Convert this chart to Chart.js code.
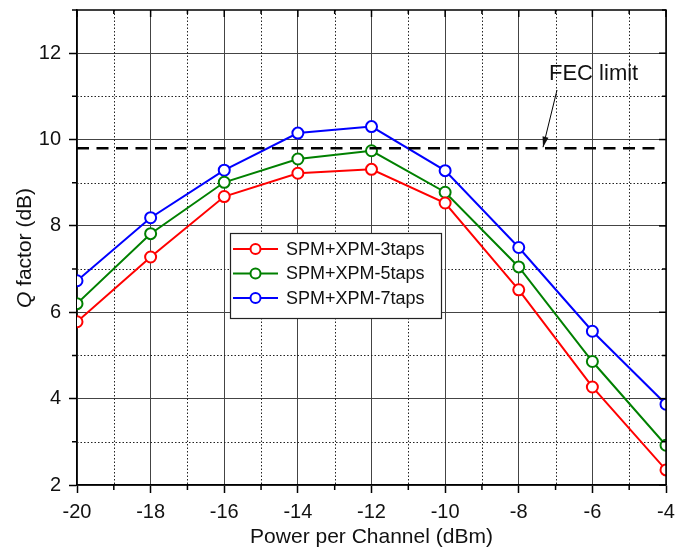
<!DOCTYPE html>
<html>
<head>
<meta charset="utf-8">
<script src="https://cdn.jsdelivr.net/npm/chart.js@4.4.1/dist/chart.umd.min.js"></script>
<style>
  html, body { margin: 0; padding: 0; background: #fff; }
  #wrap { width: 676px; height: 552px; }
</style>
</head>
<body>
<div id="wrap"><canvas id="chart" width="676" height="552"></canvas></div>
<script>
// power per channel (dBm)
const power = [-20, -18, -16, -14, -12, -10, -8, -6, -4];
// Q factor (dB)
const taps3 = [5.78, 7.28, 8.68, 9.22, 9.31, 8.53, 6.52, 4.27, 2.35];
const taps5 = [6.2, 7.82, 9.01, 9.55, 9.74, 8.78, 7.05, 4.86, 2.92];
const taps7 = [6.73, 8.19, 9.29, 10.15, 10.3, 9.28, 7.5, 5.56, 3.87];
const seriesNames = ['SPM+XPM-3taps', 'SPM+XPM-5taps', 'SPM+XPM-7taps'];
const seriesColors = ['#ff0000', '#008000', '#0000ff'];
const fecLimit = 9.8;
const xTicks = [-20, -18, -16, -14, -12, -10, -8, -6, -4];
const yTicks = [2, 4, 6, 8, 10, 12];

const FONT = '"Liberation Sans", Arial, sans-serif';

function series(vals, i) {
    return {
        label: seriesNames[i],
        data: power.map((p, k) => ({x: p, y: vals[k]})),
        borderColor: seriesColors[i],
        backgroundColor: '#fff',
        borderWidth: 2,
        pointRadius: 5.5,
        pointBorderWidth: 2,
        pointBackgroundColor: '#fff',
        pointBorderColor: seriesColors[i],
        tension: 0
    };
}

// minor grid, mirror ticks, titles, arrow and legend
let extras = {
    id: 'extras',
    beforeDatasetsDraw(chart) {
        let ctx = chart.ctx;
        let a = chart.chartArea;
        let xs = chart.scales.x, ys = chart.scales.y;
        ctx.save();
        ctx.strokeStyle = '#222';
        ctx.lineWidth = 1;
        ctx.setLineDash([1.5, 2]);
        for (let v = -19; v < -4; v += 2) {
            let px = Math.round(xs.getPixelForValue(v)) + 0.5;
            ctx.beginPath(); ctx.moveTo(px, a.top); ctx.lineTo(px, a.bottom); ctx.stroke();
        }
        for (let v = 3; v < 13; v += 2) {
            let py = Math.round(ys.getPixelForValue(v)) + 0.5;
            ctx.beginPath(); ctx.moveTo(a.left, py); ctx.lineTo(a.right, py); ctx.stroke();
        }
        ctx.restore();
    },
    afterDraw(chart) {
        let ctx = chart.ctx;
        let a = chart.chartArea;
        let xs = chart.scales.x, ys = chart.scales.y;
        ctx.save();
        ctx.strokeStyle = '#000';
        ctx.lineWidth = 1.5;
        ctx.setLineDash([]);
        // frame top and right
        ctx.beginPath();
        ctx.moveTo(a.left, a.top); ctx.lineTo(a.right, a.top); ctx.lineTo(a.right, a.bottom);
        ctx.stroke();
        // ticks: minor outside, mirror ticks inside
        for (let v = -20; v <= -4; v++) {
            let px = xs.getPixelForValue(v);
            let major = v % 2 === 0;
            ctx.beginPath();
            if (!major) { ctx.moveTo(px, a.bottom); ctx.lineTo(px, a.bottom + 5); }
            ctx.moveTo(px, a.top); ctx.lineTo(px, a.top + (major ? 7 : 4));
            ctx.stroke();
        }
        for (let v = 2; v <= 13; v++) {
            let py = ys.getPixelForValue(v);
            let major = v % 2 === 0;
            ctx.beginPath();
            if (!major) { ctx.moveTo(a.left, py); ctx.lineTo(a.left - 5, py); }
            ctx.moveTo(a.right, py); ctx.lineTo(a.right - (major ? 7 : 4), py);
            ctx.stroke();
        }

        // axis titles
        ctx.fillStyle = '#111';
        ctx.textAlign = 'center';
        ctx.textBaseline = 'middle';
        ctx.font = '21px ' + FONT;
        ctx.fillText('Power per Channel (dBm)', (a.left + a.right) / 2, 537);
        ctx.save();
        ctx.translate(25, 248);
        ctx.rotate(-Math.PI / 2);
        let t1 = 'Q', t2 = ' factor (dB)';
        ctx.font = 'italic 21px ' + FONT;
        let w1 = ctx.measureText(t1).width;
        ctx.font = '21px ' + FONT;
        let w2 = ctx.measureText(t2).width;
        ctx.textAlign = 'left';
        ctx.font = 'italic 21px ' + FONT;
        ctx.fillText(t1, -(w1 + w2) / 2, 0);
        ctx.font = '21px ' + FONT;
        ctx.fillText(t2, -(w1 + w2) / 2 + w1, 0);
        ctx.restore();

        // FEC label and arrow
        ctx.font = '22px ' + FONT;
        ctx.textAlign = 'left';
        ctx.fillText('FEC limit', 549, 74);
        let tipX = 543, tipY = ys.getPixelForValue(fecLimit) - 1;
        let sx = 557, sy = 90;
        ctx.lineWidth = 1;
        ctx.beginPath(); ctx.moveTo(sx, sy); ctx.lineTo(tipX, tipY); ctx.stroke();
        let ang = Math.atan2(tipY - sy, tipX - sx);
        ctx.beginPath();
        ctx.moveTo(tipX, tipY);
        ctx.lineTo(tipX - 11 * Math.cos(ang - 0.28), tipY - 11 * Math.sin(ang - 0.28));
        ctx.lineTo(tipX - 11 * Math.cos(ang + 0.28), tipY - 11 * Math.sin(ang + 0.28));
        ctx.closePath();
        ctx.fill();

        // legend
        let lx = 230, ly = 233, lw = 211, lh = 85;
        ctx.fillStyle = '#fff';
        ctx.fillRect(lx, ly, lw, lh);
        ctx.strokeStyle = '#222';
        ctx.lineWidth = 1.2;
        ctx.strokeRect(lx + 0.5, ly + 0.5, lw, lh);
        ctx.font = '18px ' + FONT;
        ctx.textBaseline = 'middle';
        for (let i = 0; i < 3; i++) {
            let y = 249 + i * 24.5;
            ctx.strokeStyle = seriesColors[i];
            ctx.lineWidth = 2;
            ctx.beginPath(); ctx.moveTo(233, y); ctx.lineTo(278, y); ctx.stroke();
            ctx.beginPath(); ctx.arc(255.5, y, 5, 0, Math.PI * 2);
            ctx.fillStyle = '#fff'; ctx.fill(); ctx.stroke();
            ctx.fillStyle = '#111';
            ctx.fillText(seriesNames[i], 286, y + 1);
        }
        ctx.restore();
    }
};

function noOverhang(s) {
    s.paddingTop = 0; s.paddingBottom = 0; s.paddingLeft = 0; s.paddingRight = 0;
}

new Chart(document.getElementById('chart').getContext('2d'), {
    type: 'line',
    data: {
        datasets: [
            {
                label: 'FEC limit',
                data: [{x: -20, y: fecLimit}, {x: -4.2, y: fecLimit}],
                borderColor: '#000',
                borderWidth: 2.5,
                borderDash: [12, 7.5],
                pointRadius: 0,
                fill: false
            },
            series(taps3, 0),
            series(taps5, 1),
            series(taps7, 2)
        ]
    },
    options: {
        responsive: false,
        animation: false,
        layout: {autoPadding: false, padding: {top: 10, right: 10, left: 0, bottom: 0}},
        plugins: {legend: {display: false}, tooltip: {enabled: false}},
        scales: {
            x: {
                type: 'linear',
                min: -20,
                max: -4,
                afterBuildTicks: s => { s.ticks = xTicks.map(v => ({value: v})); },
                afterFit: s => { s.height = 67; noOverhang(s); },
                ticks: {
                    font: {family: FONT, size: 20},
                    color: '#111',
                    padding: 7,
                    maxRotation: 0,
                    callback: v => String(v)
                },
                grid: {color: '#444', lineWidth: 1, tickLength: 8, tickColor: '#000', tickWidth: 1.5},
                border: {color: '#000', width: 1.5}
            },
            y: {
                min: 2,
                max: 13,
                afterBuildTicks: s => { s.ticks = yTicks.map(v => ({value: v})); },
                afterFit: s => { s.width = 77; noOverhang(s); },
                ticks: {
                    font: {family: FONT, size: 20},
                    color: '#111',
                    padding: 8,
                    callback: v => String(v)
                },
                grid: {color: '#444', lineWidth: 1, tickLength: 8, tickColor: '#000', tickWidth: 1.5},
                border: {color: '#000', width: 1.5}
            }
        }
    },
    plugins: [extras]
});
</script>
</body>
</html>
